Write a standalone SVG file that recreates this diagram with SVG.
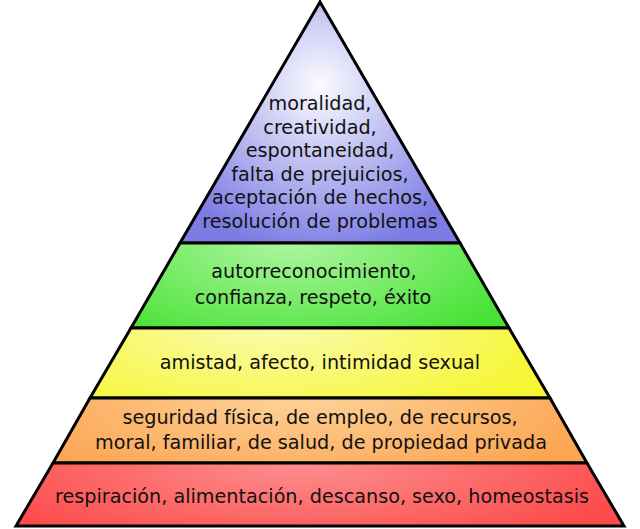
<svg xmlns="http://www.w3.org/2000/svg" width="640" height="529" viewBox="0 0 640 529">
<defs>
<radialGradient id="gBlue" cx="320" cy="85" r="170" gradientUnits="userSpaceOnUse">
<stop offset="0" stop-color="#fbfbff"/><stop offset="1" stop-color="#7c7ce4"/>
</radialGradient>
<radialGradient id="gGreen" cx="290" cy="240" r="260" gradientTransform="matrix(1 0 0 0.45 0 132)" gradientUnits="userSpaceOnUse">
<stop offset="0" stop-color="#b0f6a2"/><stop offset="1" stop-color="#46e234"/>
</radialGradient>
<radialGradient id="gYellow" cx="270" cy="325" r="300" gradientTransform="matrix(1 0 0 0.35 0 211)" gradientUnits="userSpaceOnUse">
<stop offset="0" stop-color="#fbfbb0"/><stop offset="1" stop-color="#f6f634"/>
</radialGradient>
<radialGradient id="gOrange" cx="300" cy="395" r="320" gradientTransform="matrix(1 0 0 0.3 0 276.5)" gradientUnits="userSpaceOnUse">
<stop offset="0" stop-color="#fdd39a"/><stop offset="1" stop-color="#fca552"/>
</radialGradient>
<radialGradient id="gRed" cx="300" cy="460" r="350" gradientTransform="matrix(1 0 0 0.28 0 331.2)" gradientUnits="userSpaceOnUse">
<stop offset="0" stop-color="#fd9090"/><stop offset="1" stop-color="#fc4c4c"/>
</radialGradient>
</defs>
<style>
.lvl{stroke:#000;stroke-width:3;stroke-linejoin:miter}
text{font-family:"DejaVu Sans",sans-serif;font-size:19.2px;fill:#111;text-anchor:middle}
</style>
<g id="level5">
<polygon class="lvl" fill="url(#gBlue)" points="320,2 460,243 180,243"/>
<text x="320" y="110">moralidad,</text>
<text x="320" y="133.5">creatividad,</text>
<text x="320" y="157">espontaneidad,</text>
<text x="320" y="180.5">falta de prejuicios,</text>
<text x="320" y="204">aceptación de hechos,</text>
<text x="320" y="227.5">resolución de problemas</text>
</g>
<g id="level4">
<polygon class="lvl" fill="url(#gGreen)" points="180,243 460,243 509,328 131,328"/>
<text x="314" y="278">autorreconocimiento,</text>
<text x="313" y="304">confianza, respeto, éxito</text>
</g>
<g id="level3">
<polygon class="lvl" fill="url(#gYellow)" points="131,328 509,328 550,398 90,398"/>
<text x="320" y="369">amistad, afecto, intimidad sexual</text>
</g>
<g id="level2">
<polygon class="lvl" fill="url(#gOrange)" points="90,398 550,398 587,463 53,463"/>
<text x="320" y="424">seguridad física, de empleo, de recursos,</text>
<text x="321" y="449">moral, familiar, de salud, de propiedad privada</text>
</g>
<g id="level1">
<polygon class="lvl" fill="url(#gRed)" points="53,463 587,463 624,526 16,526"/>
<text x="322" y="503">respiración, alimentación, descanso, sexo, homeostasis</text>
</g>
</svg>
